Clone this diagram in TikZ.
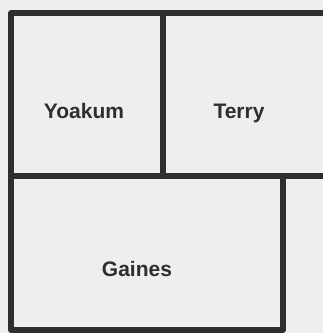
\documentclass[tikz,border=0pt]{standalone}
\usepackage{fontspec}
\setmainfont{Liberation Sans}
\definecolor{paper}{HTML}{EEEEEC}
\definecolor{ink}{HTML}{2E2E2E}
\begin{document}
\begin{tikzpicture}[x=1pt,y=-1pt,
  wall/.style={draw=ink,line width=5.5pt,line join=round},
  roomlabel/.style={text=ink,font=\fontsize{21}{25}\selectfont\bfseries,inner sep=0pt,anchor=base}]
\fill[paper] (0,0) rectangle (323,333);
\useasboundingbox (0,0) rectangle (323,333);
\coordinate (tl) at (11,13);
\coordinate (tr) at (326,13);
\coordinate (ml) at (11,176);
\coordinate (mr) at (326,176);
\coordinate (bl) at (11,330);
\coordinate (br) at (283,330);
\coordinate (rm) at (283,176);
\coordinate (dt) at (163,13);
\coordinate (dm) at (163,176);
\draw[wall] (tr) -- (tl) -- (bl) -- (br) -- (rm);
\draw[wall] (ml) -- (mr);
\draw[wall] (dt) -- (dm);
\node[roomlabel] (yoakum) at (84,118) {Yoakum};
\node[roomlabel] (terry) at (239,118) {Terry};
\node[roomlabel] (gaines) at (137,276) {Gaines};
\end{tikzpicture}
\end{document}
